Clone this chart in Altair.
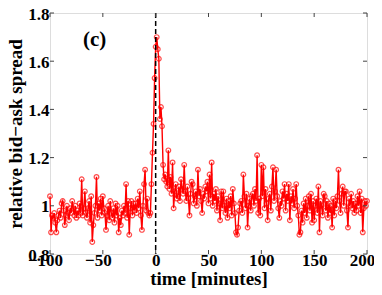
import altair as alt
import pandas as pd

# relative bid-ask spread, one value per minute from t=-100 to t=200
vals_pre = [
    1.04, 0.89, 0.96, 0.95, 0.97, 0.93, 0.89, 0.94, 0.96, 0.98,   # -100..-91
    0.95, 1.01, 1.02, 0.98, 0.92, 0.96, 1.00, 0.97, 0.94, 0.99,   # -90..-81
    0.97, 1.02, 0.99, 0.96, 1.00, 0.95, 0.98, 0.96, 1.01, 0.97,   # -80..-71
    1.11, 0.96, 0.99, 1.06, 0.97, 0.95, 0.99, 1.02, 0.93, 1.04,   # -70..-61
    0.85, 0.92, 0.97, 1.00, 1.12, 0.95, 1.01, 0.98, 1.03, 0.96,   # -60..-51
    1.04, 0.99, 0.97, 0.90, 0.96, 1.00, 0.94, 1.02, 0.97, 0.95,   # -50..-41
    0.99, 0.93, 1.01, 0.96, 1.00, 0.89, 0.95, 0.92, 0.98, 0.96,   # -40..-31
    1.00, 0.97, 1.09, 0.95, 1.02, 0.88, 0.99, 1.02, 0.96, 1.01,   # -30..-21
    0.98, 1.01, 0.97, 1.03, 0.99, 1.06, 0.96, 0.90, 1.00, 1.09,   # -20..-11
    1.15, 0.98, 1.03, 0.97, 0.96, 0.97, 1.09, 1.22, 1.34, 1.53,   # -10..-1
]
vals_post = [
    1.66, 1.70, 1.65, 1.61, 1.36, 1.41, 1.33, 1.17, 1.11, 1.13,   # 0..9
    1.10, 1.08, 1.23, 1.07, 1.12, 1.05, 1.18, 0.99, 1.06, 1.09,   # 10..19
    1.03, 1.04, 1.08, 1.02, 1.11, 1.07, 1.05, 1.17, 1.06, 1.02,   # 20..29
    1.08, 1.03, 0.96, 1.05, 1.10, 1.09, 1.01, 1.04, 1.06, 1.00,   # 30..39
    1.15, 1.04, 1.07, 1.02, 0.97, 1.05, 1.03, 1.08, 1.06, 1.10,   # 40..49
    1.01, 1.13, 1.03, 1.18, 1.00, 1.05, 1.02, 1.07, 0.98, 1.04,   # 50..59
    1.01, 0.94, 1.06, 0.99, 1.06, 1.00, 0.97, 1.03, 0.95, 1.02,   # 60..69
    0.99, 1.04, 0.96, 1.07, 1.01, 0.97, 0.89, 0.88, 0.91, 0.98,   # 70..79
    1.01, 1.02, 0.97, 1.13, 1.04, 0.99, 1.05, 0.91, 1.00, 1.03,   # 80..89
    0.98, 1.04, 1.05, 1.00, 1.07, 1.02, 1.21, 0.97, 1.03, 0.96,   # 90..99
    1.17, 1.04, 1.16, 0.99, 1.07, 1.01, 0.94, 1.03, 1.05, 0.98,   # 100..109
    1.08, 1.16, 1.02, 1.06, 1.15, 1.04, 0.99, 0.95, 1.02, 1.00,   # 110..119
    1.06, 1.03, 1.09, 0.98, 1.05, 1.02, 1.09, 0.94, 1.04, 1.01,   # 120..129
    1.07, 0.99, 1.03, 1.09, 1.00, 0.96, 0.88, 0.89, 0.98, 0.93,   # 130..139
    1.01, 0.97, 1.03, 0.95, 1.00, 1.04, 0.98, 1.05, 0.93, 1.02,   # 140..149
    0.94, 1.00, 1.03, 0.97, 1.08, 0.89, 1.02, 1.00, 0.96, 1.05,   # 150..159
    1.04, 0.98, 1.02, 0.95, 1.01, 0.97, 1.00, 0.91, 1.03, 0.96,   # 160..169
    1.02, 0.99, 1.04, 1.15, 1.02, 0.97, 1.05, 1.08, 1.00, 1.06,   # 170..179
    1.06, 0.98, 0.91, 1.03, 1.00, 1.05, 0.99, 1.02, 0.97, 1.01,   # 180..189
    0.98, 1.04, 1.00, 1.06, 0.97, 1.03, 0.89, 0.99, 1.02, 1.00,   # 190..199
    1.02,                                                         # 200
]
values = vals_pre + vals_post
times = list(range(-100, 201))
assert len(values) == len(times)

x_ticks = [-100, -50, 0, 50, 100, 150, 200]
y_ticks = [0.8, 1.0, 1.2, 1.4, 1.6, 1.8]
event_time = [0]
label_text = ["(c)"]
label_x = [-57.7]
label_y = [1.69]

W, H = 317, 241
FONT = "Liberation Serif"

df = pd.DataFrame({"t": times, "s": values})
xt = pd.DataFrame({"x": x_ticks})
yt = pd.DataFrame({"y": y_ticks})
ev = pd.DataFrame({"x": event_time})
lab = pd.DataFrame({"x": label_x, "y": label_y, "text": label_text})

xscale = alt.Scale(domain=[-100, 200], nice=False, zero=False)
yscale = alt.Scale(domain=[0.8, 1.8], nice=False, zero=False)

x_axis = alt.Axis(values=x_ticks, title="time [minutes]", grid=False, ticks=False,
                  domain=False, labelFlush=False, labelOverlap=False, labelFont=FONT,
                  labelFontWeight="bold", labelFontSize=17, labelColor="black",
                  labelPadding=-2,
                  labelOffset={"condition": {"test": "datum.value < 0 || datum.value == 200",
                                             "value": -5}, "value": 0},
                  titleFont=FONT, titleFontWeight="bold",
                  titleFontSize=19, titleColor="black", titlePadding=1)
y_axis = alt.Axis(values=y_ticks, title="relative bid\u2212ask spread", grid=False, ticks=False,
                  domain=False, format="~g", labelFlush=False, labelOverlap=False,
                  labelOffset=1, labelFont=FONT, labelFontWeight="bold",
                  labelFontSize=17, labelColor="black", labelPadding=1, titleFont=FONT,
                  titleFontWeight="bold", titleFontSize=19, titleColor="black", titlePadding=2)

base = alt.Chart(df)
line = base.mark_line(color="#ff0000", strokeWidth=1.4).encode(
    x=alt.X("t:Q", scale=xscale, axis=x_axis),
    y=alt.Y("s:Q", scale=yscale, axis=y_axis),
)
pts = base.mark_point(color="#ff0000", filled=False, size=22, strokeWidth=1.2).encode(
    x=alt.X("t:Q", scale=xscale),
    y=alt.Y("s:Q", scale=yscale),
)
vline = alt.Chart(ev).mark_rule(color="black", strokeWidth=1.5, strokeDash=[5, 3]).encode(
    x=alt.X("x:Q", scale=xscale)
)
text = alt.Chart(lab).mark_text(font=FONT, fontWeight="bold", fontSize=21, color="black").encode(
    x=alt.X("x:Q", scale=xscale), y=alt.Y("y:Q", scale=yscale), text="text:N"
)
tick_color = "#444444"
xb = alt.Chart(xt).mark_rule(color=tick_color, strokeWidth=1).encode(
    x=alt.X("x:Q", scale=xscale), y=alt.value(H), y2=alt.value(H - 4))
xtp = alt.Chart(xt).mark_rule(color=tick_color, strokeWidth=1).encode(
    x=alt.X("x:Q", scale=xscale), y=alt.value(0), y2=alt.value(4))
yl = alt.Chart(yt).mark_rule(color=tick_color, strokeWidth=1).encode(
    y=alt.Y("y:Q", scale=yscale), x=alt.value(0), x2=alt.value(4))
yr = alt.Chart(yt).mark_rule(color=tick_color, strokeWidth=1).encode(
    y=alt.Y("y:Q", scale=yscale), x=alt.value(W), x2=alt.value(W - 4))

chart = alt.layer(line, pts, vline, text, xb, xtp, yl, yr).properties(
    width=W, height=H,
    autosize=alt.AutoSizeParams(type="none"),
    padding={"left": 42, "top": 5, "right": 7, "bottom": 38},
).configure_view(stroke="#444444", strokeWidth=1.2).configure(background="white")

chart.save("out.html", embed_options={"renderer": "svg", "actions": False})
